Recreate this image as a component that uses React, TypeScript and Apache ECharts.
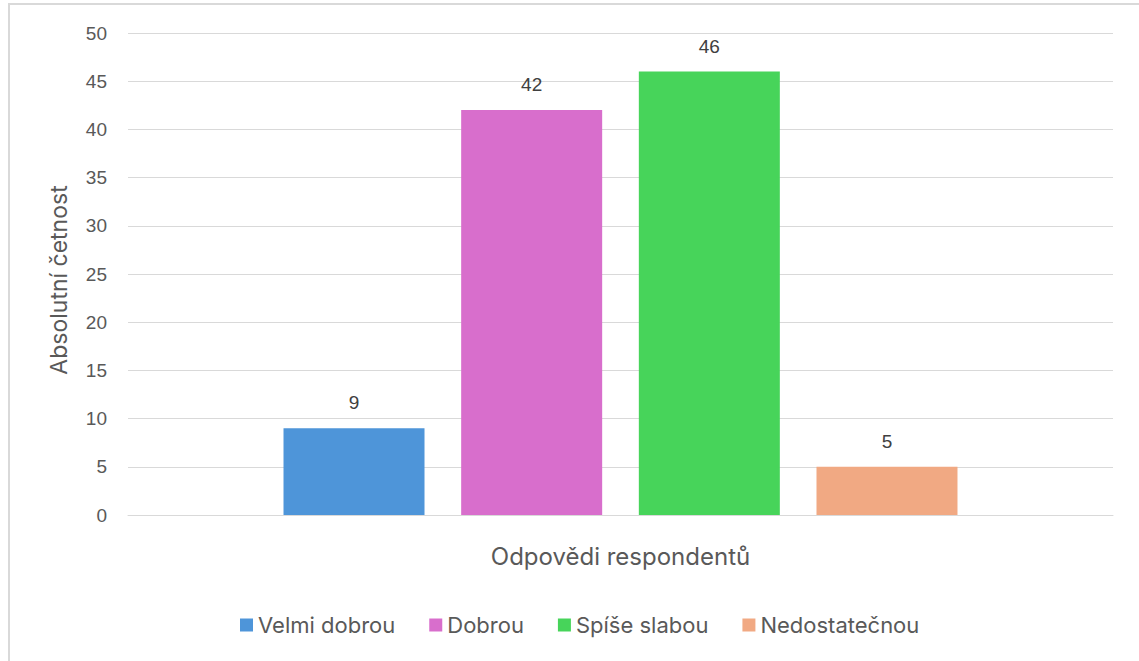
import React, { useEffect, useRef } from "react";
import * as echarts from "echarts";

const categories = [""];
const seriesNames = ["Velmi dobrou", "Dobrou", "Spíše slabou", "Nedostatečnou"];
const seriesValues = [9, 42, 46, 5];
const seriesColors = ["#4E95D9", "#D86ECC", "#47D45A", "#F1A983"];
const yTicks = { min: 0, max: 50, interval: 5 };
const xTitle = "Odpovědi respondentů";
const yTitle = "Absolutní četnost";

export default function App() {
  const ref = useRef<HTMLDivElement>(null);
  useEffect(() => {
    if (!ref.current) return;
    const chart = echarts.init(ref.current, null, { renderer: "svg" });
    chart.setOption({
      animation: false,
      backgroundColor: "#ffffff",
      graphic: [
        {
          type: "rect",
          shape: { x: 9, y: 4, width: 1300, height: 800 },
          style: { fill: "none", stroke: "#d9d9d9", lineWidth: 2 },
          silent: true,
        },
      ],
      grid: { left: 128, right: 26, top: 33, bottom: 146 },
      legend: {
        data: seriesNames,
        bottom: 20,
        left: 235,
        icon: "rect",
        itemWidth: 13,
        itemHeight: 13,
        itemGap: 34,
        textStyle: { color: "#595959", fontSize: 22, fontFamily: "Inter" },
      },
      xAxis: {
        type: "category",
        data: categories,
        axisLine: { show: true, lineStyle: { color: "#d9d9d9", width: 1 } },
        axisTick: { show: false },
        axisLabel: { show: false },
        name: xTitle,
        nameLocation: "middle",
        nameGap: 29,
        nameTextStyle: { color: "#595959", fontSize: 24, fontFamily: "Inter" },
      },
      yAxis: {
        type: "value",
        min: yTicks.min,
        max: yTicks.max,
        interval: yTicks.interval,
        axisLine: { show: false },
        axisTick: { show: false },
        splitLine: { lineStyle: { color: "#d9d9d9", width: 1 } },
        axisLabel: { color: "#595959", fontSize: 19, fontFamily: "Liberation Sans", margin: 21 },
        name: yTitle,
        nameLocation: "middle",
        nameGap: 58,
        nameRotate: 90,
        nameTextStyle: { color: "#595959", fontSize: 23, fontFamily: "Inter", padding: [0, 12, 0, 0] },
      },
      series: seriesNames.map((name, i) => ({
        type: "bar",
        name,
        data: [seriesValues[i]],
        barWidth: 141,
        barGap: "26%",
        itemStyle: { color: seriesColors[i] },
        label: {
          show: true,
          position: "top",
          distance: 16,
          color: "#404040",
          fontSize: 19,
          fontFamily: "Liberation Sans",
        },
      })),
    });
    return () => chart.dispose();
  }, []);
  return (
    <div
      ref={ref}
      style={{ position: "fixed", left: 0, top: 0, width: 1139, height: 661, background: "#fff" }}
    />
  );
}
